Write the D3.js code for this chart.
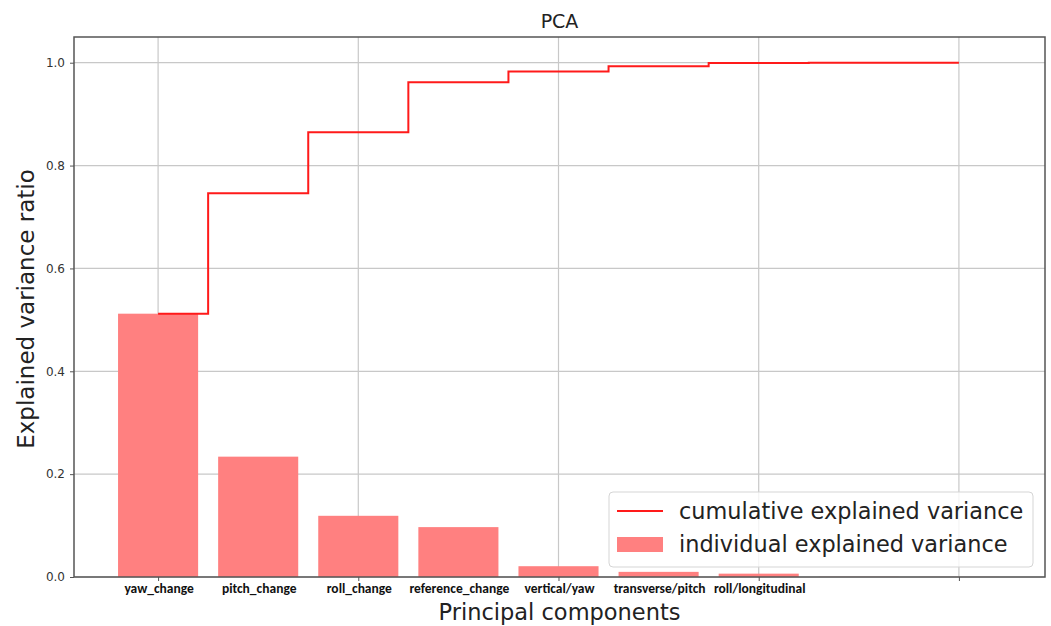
<!DOCTYPE html>
<html>
<head>
<meta charset="utf-8">
<script src="https://cdn.jsdelivr.net/npm/d3@7"></script>
<style>
  body { margin: 0; background: #fff; }
  text { font-family: "DejaVu Sans", sans-serif; }
</style>
</head>
<body>
<div id="wrapper"></div>
<script>
// explained variance per principal component (9 components, last two ~0)
var components = [0, 1, 2, 3, 4, 5, 6, 7, 8];
var individual = [0.512, 0.234, 0.119, 0.097, 0.021, 0.010, 0.0065, 0.0003, 0.0002];
var componentNames = ["yaw_change", "pitch_change", "roll_change", "reference_change",
  "vertical/yaw", "transverse/pitch", "roll/longitudinal"];
var yTicks = [0.0, 0.2, 0.4, 0.6, 0.8, 1.0];
var xTicks = [0, 2, 4, 6, 8];

var cumulative = [];
individual.reduce(function (acc, v, i) { cumulative[i] = acc + v; return acc + v; }, 0);

let dimensions = {
  width: 1051,
  height: 626,
  margin: { top: 37, right: 6, bottom: 49, left: 74 }
};
dimensions.boundedWidth = dimensions.width - dimensions.margin.left - dimensions.margin.right;
dimensions.boundedHeight = dimensions.height - dimensions.margin.top - dimensions.margin.bottom;

const svg = d3.select("#wrapper").append("svg")
  .attr("width", dimensions.width)
  .attr("height", dimensions.height);

const bounds = svg.append("g")
  .attr("transform", `translate(${dimensions.margin.left},${dimensions.margin.top})`);

const xScale = d3.scaleLinear()
  .domain([-0.84, 8.86])
  .range([0, dimensions.boundedWidth]);

const yScale = d3.scaleLinear()
  .domain([0, 1.05])
  .range([dimensions.boundedHeight, 0]);

// grid
bounds.append("g").selectAll("line.vg")
  .data(xTicks).enter().append("line")
  .attr("x1", d => xScale(d)).attr("x2", d => xScale(d))
  .attr("y1", 0).attr("y2", dimensions.boundedHeight)
  .attr("stroke", "#c8c8c8").attr("stroke-width", 1.2);

bounds.append("g").selectAll("line.hg")
  .data(yTicks).enter().append("line")
  .attr("x1", 0).attr("x2", dimensions.boundedWidth)
  .attr("y1", d => yScale(d)).attr("y2", d => yScale(d))
  .attr("stroke", "#c8c8c8").attr("stroke-width", 1.2);

// bars
const barW = xScale(0.8) - xScale(0);
bounds.append("g").selectAll("rect")
  .data(components).enter().append("rect")
  .attr("x", d => xScale(d) - barW / 2)
  .attr("y", d => yScale(individual[d]))
  .attr("width", barW)
  .attr("height", d => dimensions.boundedHeight - yScale(individual[d]))
  .attr("fill", "#ff8080");

// cumulative step line (where = mid)
const stepLine = d3.line()
  .x(d => xScale(d))
  .y(d => yScale(cumulative[d]))
  .curve(d3.curveStep);
bounds.append("path")
  .attr("d", stepLine(components))
  .attr("fill", "none")
  .attr("stroke", "#ff1a1a")
  .attr("stroke-width", 2);

// axes frame
bounds.append("rect")
  .attr("width", dimensions.boundedWidth)
  .attr("height", dimensions.boundedHeight)
  .attr("fill", "none")
  .attr("stroke", "#555")
  .attr("stroke-width", 1.5);

// y axis
const yAxis = bounds.append("g")
  .call(d3.axisLeft(yScale).tickValues(yTicks).tickFormat(d3.format(".1f")).tickSize(4).tickPadding(5));
yAxis.select(".domain").remove();
yAxis.selectAll("line").attr("stroke", "#555");
yAxis.selectAll("text").attr("font-size", 12).attr("fill", "#333")
  .style("font-family", "DejaVu Sans, sans-serif");

// x axis ticks
const xAxis = bounds.append("g")
  .attr("transform", `translate(0,${dimensions.boundedHeight})`)
  .call(d3.axisBottom(xScale).tickValues(xTicks).tickFormat("").tickSize(4));
xAxis.select(".domain").remove();
xAxis.selectAll("line").attr("stroke", "#555");

// component names
bounds.append("g").selectAll("text")
  .data(componentNames).enter().append("text")
  .attr("x", (d, i) => xScale(i) + 1)
  .attr("y", dimensions.boundedHeight + 16)
  .attr("text-anchor", "middle")
  .attr("font-size", 13.5)
  .attr("font-weight", "bold")
  .style("font-family", "Carlito, 'Liberation Sans', sans-serif")
  .attr("fill", "#111")
  .text(d => d);

// title
svg.append("text")
  .attr("x", dimensions.margin.left + dimensions.boundedWidth / 2)
  .attr("y", 28)
  .attr("text-anchor", "middle")
  .attr("font-size", 19)
  .attr("fill", "#222")
  .text("PCA");

// axis descriptions
svg.append("text")
  .attr("x", dimensions.margin.left + dimensions.boundedWidth / 2)
  .attr("y", 620)
  .attr("text-anchor", "middle")
  .attr("font-size", 22.5)
  .attr("fill", "#222")
  .text("Principal components");

svg.append("text")
  .attr("transform", `translate(34,${dimensions.margin.top + dimensions.boundedHeight / 2 + 2}) rotate(-90)`)
  .attr("text-anchor", "middle")
  .attr("font-size", 23)
  .attr("fill", "#222")
  .text("Explained variance ratio");

// legend
const legend = svg.append("g").attr("transform", "translate(609,492)");
legend.append("rect")
  .attr("width", 424).attr("height", 75)
  .attr("rx", 4)
  .attr("fill", "rgba(255,255,255,0.8)")
  .attr("stroke", "#d5d5d5");
legend.append("line")
  .attr("x1", 8).attr("x2", 54).attr("y1", 19).attr("y2", 19)
  .attr("stroke", "#ff1a1a").attr("stroke-width", 2);
legend.append("rect")
  .attr("x", 8).attr("y", 45).attr("width", 46).attr("height", 15)
  .attr("fill", "#ff8080");
legend.append("text")
  .attr("x", 70).attr("y", 27)
  .attr("font-size", 22.4).attr("fill", "#222")
  .text("cumulative explained variance");
legend.append("text")
  .attr("x", 70).attr("y", 60)
  .attr("font-size", 22.4).attr("fill", "#222")
  .text("individual explained variance");
</script>
</body>
</html>
